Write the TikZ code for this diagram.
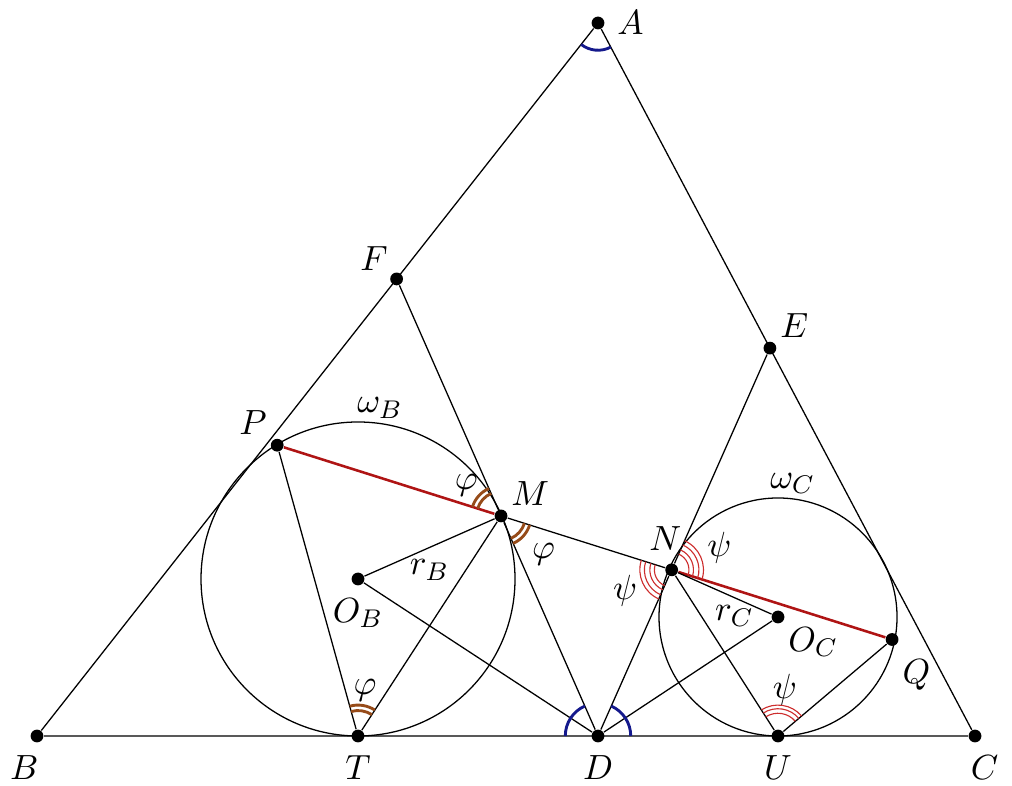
\documentclass[tikz,border=0pt,11pt]{standalone}
\usetikzlibrary{calc, angles, quotes}
\definecolor{navyarc}{RGB}{20,25,140}
\definecolor{brownarc}{RGB}{150,75,25}
\definecolor{chordred}{RGB}{175,20,20}
\definecolor{psired}{RGB}{205,45,45}
\tikzset{
    dot/.style = {circle, fill, inner sep = 0pt, minimum size = 4pt},
    chord/.style = {chordred, line width = 0.8pt},
    Aarc/.style = {draw = navyarc, line width = 0.9pt},
    phiarc/.style = {draw = brownarc, line width = 0.9pt},
    psiarc/.style = {draw = psired, line width = 0.35pt}
}

\begin{document}
\begin{tikzpicture}[x = 1.1cm, y = 1.1cm]
    \useasboundingbox (0, 0) rectangle (10.12, 7.86);

    \node[dot, label = right:$A$] (A) at (5.98, 7.63) {};
    \node[dot, label = {[xshift = -4pt]below:$B$}] (B) at (0.37, 0.50) {};
    \node[dot, label = {[xshift = 3pt]below:$C$}] (C) at (9.75, 0.50) {};
    \node[dot, label = below:$D$] (D) at (5.98, 0.50) {};
    \node[dot, label = {[inner sep = 1pt]above left:$F$}] (F) at ($(A)!0.359!(B)$) {};
    \node[dot, label = {[inner sep = 1.5pt]above right:$E$}] (E) at ($(A)!0.456!(C)$) {};
    \node[dot, label = below:$O_B$] (OB) at (3.58, 2.07) {};
    \node[dot, label = {[inner sep = 1.5pt]below right:$O_C$}] (OC) at (7.78, 1.69) {};

    \node[dot, label = below:$T$] (T) at (OB |- D) {};
    \node[dot, label = below:$U$] (U) at (OC |- D) {};
    \node[dot, label = {[inner sep = 1.5pt]above right:$M$}] (M) at ($(F)!(OB)!(D)$) {};
    \node[dot, label = {[xshift = -2pt]above:$N$}] (N) at ($(E)!(OC)!(D)$) {};
    \coordinate (HB) at ($(M)!(OB)!(N)$);
    \coordinate (HC) at ($(M)!(OC)!(N)$);
    \node[dot, label = {[inner sep = 1.5pt]above left:$P$}] (P) at ($(M)!2!(HB)$) {};
    \node[dot, label = {[inner sep = 1.5pt, yshift = -3pt]below right:$Q$}] (Q) at ($(N)!2!(HC)$) {};

    \node[above, inner sep = 1.5pt] (wB) at ($(OB)+(82:1.57)$) {$\omega_B$};
    \node[above, inner sep = 1.5pt] (wC) at ($(OC)+(83:1.19)$) {$\omega_C$};

    \draw (A) -- (B) -- (C) -- (A);
    \draw (F) -- (M) -- (D) -- (N) -- (E);
    \draw (M) -- (N);
    \draw[chord] (P) -- (M);
    \draw[chord] (N) -- (Q);
    \draw (P) -- (T) -- (M);
    \draw (OB) -- node[below] (rB) {$r_B$} (M);
    \draw (OB) -- (D) -- (OC);
    \draw (N) -- node[below, xshift = 3pt] (rC) {$r_C$} (OC);
    \draw (N) -- (U) -- (Q);
    \draw (OB) circle[radius = 1.57];
    \draw (OC) circle[radius = 1.19];

    \pic[Aarc, angle radius = 0.30cm] {angle = B--A--C};
    \pic[Aarc, angle radius = 0.36cm] {angle = M--D--B};
    \pic[Aarc, angle radius = 0.36cm] {angle = C--D--E};

    \pic[phiarc, angle radius = 0.27cm] {angle = F--M--P};
    \pic[phiarc, angle radius = 0.33cm, "$\varphi$", angle eccentricity = 1.55] {angle = F--M--P};
    \pic[phiarc, angle radius = 0.27cm] {angle = D--M--N};
    \pic[phiarc, angle radius = 0.33cm, "$\varphi$", angle eccentricity = 1.9] {angle = D--M--N};
    \pic[phiarc, angle radius = 0.28cm] {angle = M--T--P};
    \pic[phiarc, angle radius = 0.34cm, "$\varphi$", angle eccentricity = 1.5] {angle = M--T--P};

    \foreach \r in {0.19, 0.24, 0.30}
        \pic[psiarc, angle radius = \r cm] {angle = M--N--D};
    \pic[psiarc, angle radius = 0.35cm, "$\psi$", angle eccentricity = 1.6] {angle = M--N--D};
    \foreach \r in {0.19, 0.24, 0.30}
        \pic[psiarc, angle radius = \r cm] {angle = Q--N--E};
    \pic[psiarc, angle radius = 0.35cm, "$\psi$", angle eccentricity = 1.65] {angle = Q--N--E};
    \foreach \r in {0.25, 0.30}
        \pic[psiarc, angle radius = \r cm] {angle = Q--U--N};
    \pic[psiarc, angle radius = 0.34cm, "$\psi$", angle eccentricity = 1.5] {angle = Q--U--N};
\end{tikzpicture}
\end{document}
